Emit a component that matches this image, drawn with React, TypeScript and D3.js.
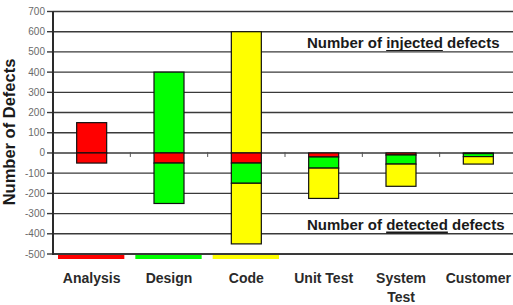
import { useEffect, useRef } from "react";
import * as d3 from "d3";

// phases where defects are injected / detected
const phases = ["Analysis", "Design", "Code", "Unit Test", "System Test", "Customer"];
const phaseLabels = [["Analysis"], ["Design"], ["Code"], ["Unit Test"], ["System", "Test"], ["Customer"]];

// defects injected in each phase (drawn above zero)
const injected = [150, 400, 600, 0, 0, 0];

// defects detected in each phase, split by the phase that injected them (drawn below zero)
const detectedFromAnalysis = [50, 50, 50, 20, 10, 3];
const detectedFromDesign = [0, 200, 100, 55, 45, 15];
const detectedFromCode = [0, 0, 300, 150, 110, 37];

const phaseColors = ["#ff0000", "#00ff00", "#ffff00"];
const yTicks = [-500, -400, -300, -200, -100, 0, 100, 200, 300, 400, 500, 600, 700];

const W = 513;
const H = 305;
const margin = { top: 11.5, right: -4, bottom: 51, left: 53 };
const FONT = "'Liberation Sans', Arial, sans-serif";

const App = () => {
    const ref = useRef<SVGSVGElement>(null);

    useEffect(() => {
        const root = d3.select(ref.current);
        root.selectAll("*").remove();

        const x = d3.scaleBand<string>()
            .domain(phases)
            .range([margin.left, W - margin.right])
            .padding(0);

        const y = d3.scaleLinear()
            .domain([-500, 700])
            .range([H - margin.bottom, margin.top]);

        const barW = 30;
        const left = (p: string) => x(p)! + (x.bandwidth() - barW) / 2;

        // gridlines
        root.append("g")
            .selectAll("line")
            .data(yTicks)
            .enter().append("line")
            .attr("x1", margin.left)
            .attr("x2", W - margin.right)
            .attr("y1", d => y(d))
            .attr("y2", d => y(d))
            .attr("stroke", "#3a3a3a")
            .attr("stroke-width", d => (d === -500 ? 2 : 1.4));

        // y axis ticks + labels
        const yAxis = root.append("g");
        yAxis.selectAll("line")
            .data(yTicks)
            .enter().append("line")
            .attr("x1", margin.left - 6)
            .attr("x2", margin.left)
            .attr("y1", d => y(d))
            .attr("y2", d => y(d))
            .attr("stroke", "#3a3a3a")
            .attr("stroke-width", 1.4);
        yAxis.selectAll("text")
            .data(yTicks)
            .enter().append("text")
            .attr("x", margin.left - 8)
            .attr("y", d => y(d) + 3.5)
            .attr("text-anchor", "end")
            .attr("font-family", FONT)
            .attr("font-size", "10px")
            .attr("fill", "#6a6a6a")
            .text(d => d);

        // injected bars
        root.append("g")
            .selectAll("rect")
            .data(phases.map((p, i) => ({ p, v: injected[i], c: phaseColors[Math.min(i, 2)] })).filter(d => d.v > 0))
            .enter().append("rect")
            .attr("x", d => left(d.p))
            .attr("width", barW)
            .attr("y", d => y(d.v))
            .attr("height", d => y(0) - y(d.v))
            .attr("fill", d => d.c)
            .attr("stroke", "#111")
            .attr("stroke-width", 1.2);

        // detected bars, stacked downwards
        const stacks = [detectedFromAnalysis, detectedFromDesign, detectedFromCode];
        phases.forEach((p, i) => {
            let acc = 0;
            stacks.forEach((s, k) => {
                const v = s[i];
                if (v <= 0) return;
                root.append("rect")
                    .attr("x", left(p))
                    .attr("width", barW)
                    .attr("y", y(-acc))
                    .attr("height", y(-acc - v) - y(-acc))
                    .attr("fill", phaseColors[k])
                    .attr("stroke", "#111")
                    .attr("stroke-width", 1.2);
                acc += v;
            });
        });

        // category ticks on the zero line
        root.append("g")
            .selectAll("line")
            .data(phases.slice(1))
            .enter().append("line")
            .attr("x1", d => x(d)!)
            .attr("x2", d => x(d)!)
            .attr("y1", y(0) - 1)
            .attr("y2", y(0) + 4)
            .attr("stroke", "#555")
            .attr("stroke-width", 1);

        // left axis
        root.append("line")
            .attr("x1", margin.left)
            .attr("x2", margin.left)
            .attr("y1", y(700))
            .attr("y2", y(-500) + 1)
            .attr("stroke", "#2a2a2a")
            .attr("stroke-width", 2);

        // coloured markers for the injecting phases
        root.append("g")
            .selectAll("line")
            .data(phases.slice(0, 3))
            .enter().append("line")
            .attr("x1", d => x(d)! + 5)
            .attr("x2", d => x(d)! + x.bandwidth() - 6)
            .attr("y1", y(-500) + 3)
            .attr("y2", y(-500) + 3)
            .attr("stroke", (d, i) => phaseColors[i])
            .attr("stroke-width", 4);

        // category labels
        const labels = root.append("g")
            .selectAll("text")
            .data(phaseLabels)
            .enter().append("text")
            .attr("text-anchor", "middle")
            .attr("font-family", FONT)
            .attr("font-weight", "bold")
            .attr("font-size", "14px")
            .attr("fill", "#2a2a2a");
        labels.each(function (lines, i) {
            const t = d3.select(this);
            lines.forEach((line, j) => {
                t.append("tspan")
                    .attr("x", x(phases[i])! + x.bandwidth() / 2)
                    .attr("y", 282.5 + j * 19)
                    .text(line);
            });
        });

        // y axis title
        root.append("text")
            .attr("transform", `translate(15, 132) rotate(-90)`)
            .attr("text-anchor", "middle")
            .attr("font-family", FONT)
            .attr("font-weight", "bold")
            .attr("font-size", "16.5px")
            .attr("fill", "#1a1a1a")
            .text("Number of Defects");

        // annotations with an underlined keyword
        const note = (yBase: number, pre: string, key: string, post: string, thick: number) => {
            const t = root.append("text")
                .attr("x", 307)
                .attr("y", yBase)
                .attr("font-family", FONT)
                .attr("font-weight", "bold")
                .attr("font-size", "15px")
                .attr("fill", "#1a1a1a")
                .text(pre + key + post);
            const node = t.node() as SVGTextElement;
            const x0 = node.getStartPositionOfChar(pre.length).x;
            const x1 = x0 + node.getSubStringLength(pre.length, key.length);
            root.append("line")
                .attr("x1", x0)
                .attr("x2", x1)
                .attr("y1", yBase + 3)
                .attr("y2", yBase + 3)
                .attr("stroke", "#1a1a1a")
                .attr("stroke-width", thick);
        };
        note(47.5, "Number of ", "injected", " defects", 1);
        note(229.5, "Number of ", "detected", " defects", 2);
    }, []);

    return (
        <svg
            ref={ref}
            width={W}
            height={H}
            style={{ position: "absolute", left: 0, top: 0, background: "#fff" }}
        />
    );
};

export default App;
